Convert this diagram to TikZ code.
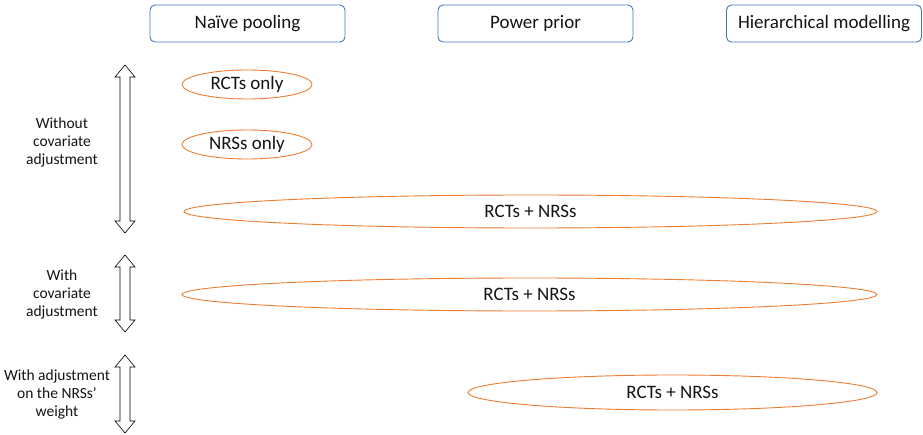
\documentclass[tikz,border=0pt]{standalone}
\usepackage{fontspec}
\setmainfont{Carlito}
\usetikzlibrary{shapes.geometric}
\definecolor{boxblue}{RGB}{68,114,196}
\definecolor{ovorange}{RGB}{237,125,49}
\definecolor{txt}{RGB}{20,20,20}
\begin{document}
\begin{tikzpicture}[x=1pt,y=-1pt,
  header/.style={draw=boxblue, line width=0.9pt, rounded corners=5pt, minimum width=195pt, minimum height=37pt, font=\fontsize{19}{22}\selectfont, text=txt},
  oval/.style={draw=ovorange, line width=0.9pt, ellipse, inner sep=0pt, font=\fontsize{19}{22}\selectfont, text=txt},
  side/.style={align=center, font=\fontsize{15.5}{18}\selectfont, text=txt},
  dbl/.style={draw=black, line width=0.6pt, fill=white}]
\useasboundingbox (0,0) rectangle (923,435);
% column headers
\node[header] (naive) at (247.5,23.5) {Naïve pooling};
\node[header] (power) at (535.5,23.5) {Power prior};
\node[header] (hier)  at (824,23.5) {Hierarchical modelling};
% row labels
\node[side] (r1) at (62,142) {Without\\covariate\\adjustment};
\node[side] (r2) at (62,294) {With\\covariate\\adjustment};
\node[side] (r3) at (57,394) {With adjustment\\on the NRSs'\\weight};
% double-headed arrows marking each row
\newcommand{\vdarrow}[3]{% x, top, bottom
  \draw[dbl] (#1,#2) -- (#1+10,#2+12) -- (#1+5,#2+12) -- (#1+5,#3-12) -- (#1+10,#3-12)
    -- (#1,#3) -- (#1-10,#3-12) -- (#1-5,#3-12) -- (#1-5,#2+12) -- (#1-10,#2+12) -- cycle;}
\vdarrow{125}{65}{233}
\vdarrow{125}{255}{332}
\vdarrow{125}{355}{433}
% data sources
\node[oval, minimum width=130pt, minimum height=29pt] (rct) at (247,84.5) {RCTs only};
\node[oval, minimum width=130pt, minimum height=29pt] (nrs) at (247,144.5) {NRSs only};
\node[oval, minimum width=693pt, minimum height=33pt] (both1) at (530.5,211.5) {RCTs + NRSs};
\node[oval, minimum width=695pt, minimum height=33pt] (both2) at (529.5,294.5) {RCTs + NRSs};
\node[oval, minimum width=409pt, minimum height=35pt] (both3) at (672.5,392.5) {RCTs + NRSs};
\end{tikzpicture}
\end{document}
